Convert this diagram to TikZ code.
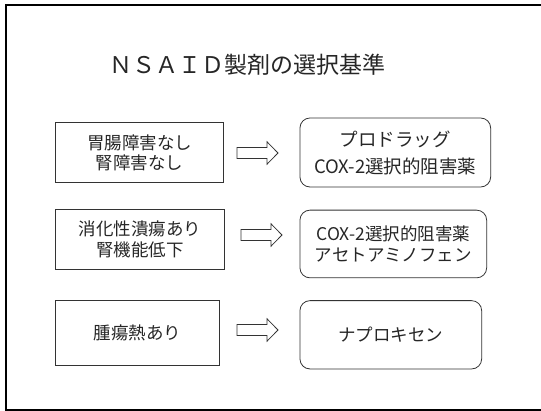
\documentclass[tikz,border=0pt]{standalone}
\usepackage{fontspec}
\setmainfont{Noto Sans CJK JP}
\tikzset{
  x=1pt, y=-1pt,
  frameline/.style={draw=black, line width=2pt},
  cond/.style={draw=black!80, line width=0.8pt, inner sep=0pt, align=center, text=black!85,
    font=\fontsize{17.5}{21}\selectfont},
  drug/.style={cond, rounded corners=10pt},
  blockarrow/.style={draw=black!80, line width=0.8pt, line join=miter},
  titletext/.style={inner sep=0pt, text=black!85, font=\fontsize{23}{26}\selectfont},
}
\begin{document}
\begin{tikzpicture}
\useasboundingbox (0,0) rectangle (541,411);
\begin{scope}
  \clip (0,0) rectangle (541,411);
  \draw[frameline] (6,5.5) rectangle (560,410);
\end{scope}

\node[titletext] (title) at (247.5,65) {ＮＳＡＩＤ製剤の選択基準};

\node[cond, minimum width=168pt, minimum height=60pt] (c1) at (139.7,152.7)
  {胃腸障害なし\\[-1.5pt]腎障害なし};
\node[drug, minimum width=190.7pt, minimum height=69pt, font=\fontsize{18.5}{22}\selectfont] (d1) at (395.3,152.5)
  {プロドラッグ\\[5pt]COX-2選択的阻害薬};

\node[cond, minimum width=168.3pt, minimum height=59.7pt] (c2) at (139.8,239.2)
  {消化性潰瘍あり\\[0pt]腎機能低下};
\node[drug, minimum width=186.7pt, minimum height=67.7pt] (d2) at (393.3,244)
  {COX-2選択的阻害薬\\[0pt]アセトアミノフェン};

\node[cond, minimum width=163.3pt, minimum height=64.3pt] (c3) at (137.3,332.8)
  {腫瘍熱あり};
\node[drug, minimum width=181.7pt, minimum height=68.3pt] (d3) at (390.8,334.8)
  {ナプロキセン};

\coordinate (a1) at (237,153);
\coordinate (a2) at (241,235);
\coordinate (a3) at (237,330);
\foreach \a in {a1,a2,a3}{
  \draw[blockarrow, shift={(\a)}] (0,-5.5) -- (30,-5.5) -- (30,-11.2) -- (41,0)
    -- (30,11.2) -- (30,5.5) -- (0,5.5) -- cycle;
}
\end{tikzpicture}
\end{document}
